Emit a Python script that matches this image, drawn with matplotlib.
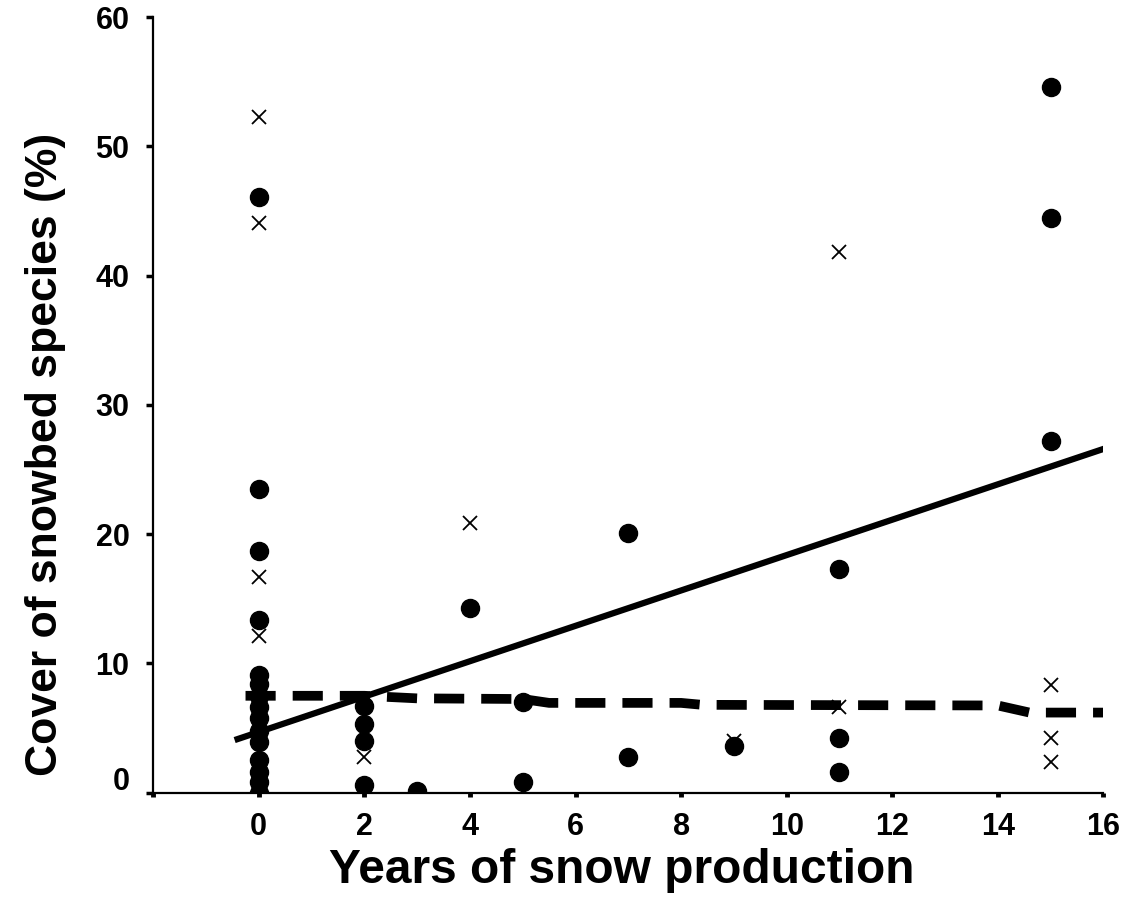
import matplotlib
matplotlib.use("Agg")
import matplotlib.pyplot as plt
from matplotlib.transforms import ScaledTranslation

plt.rcParams['font.family'] = ['Liberation Sans', 'DejaVu Sans']
plt.rcParams['font.weight'] = 'bold'

# filled circles
circle_years = [0] * 15 + [2] * 4 + [3] + [4] + [5] * 2 + [7] * 2 + [9] + [11] * 3 + [15] * 3
circle_cover = [46.1, 23.5, 18.7, 13.4, 9.1, 8.4, 7.5, 6.6, 5.8, 4.8, 3.9, 2.5, 1.6, 0.8, 0.0,
                6.7, 5.3, 4.0, 0.6,
                0.15,
                14.3,
                7.0, 0.8,
                20.1, 2.8,
                3.6,
                17.3, 4.2, 1.6,
                54.6, 44.5, 27.2]

# crosses
cross_years = [0] * 4 + [2] * 2 + [4] + [5] + [9] + [11] * 2 + [15] * 3
cross_cover = [52.3, 44.1, 16.7, 12.1,
               2.8, 0.1,
               20.9,
               0.1,
               4.0,
               41.8, 6.6,
               8.3, 4.2, 2.4]

# regression line (solid) and second fit (dashed)
fit_years = [-0.4, 16]
fit_cover = [4.15, 26.6]
dash_years = [-0.25, 2, 3, 5, 5.5, 8, 8.4, 14, 14.6, 16]
dash_cover = [7.5, 7.5, 7.3, 7.25, 6.95, 6.95, 6.8, 6.75, 6.2, 6.2]

xticks = [-2, 0, 2, 4, 6, 8, 10, 12, 14, 16]
xticklabels = ['', '0', '2', '4', '6', '8', '10', '12', '14', '16']
yticks = [0, 10, 20, 30, 40, 50, 60]

fig = plt.figure(figsize=(11.26, 9.07), dpi=100)
ax = fig.add_axes([0.136, 0.126, 0.844, 0.855])

ax.plot(cross_years, cross_cover, linestyle='none', marker='x', color='black',
        markersize=10, markeredgewidth=1.3, zorder=2)
ax.plot(circle_years, circle_cover, linestyle='none', marker='o', color='black',
        markersize=13, zorder=3)
ax.plot(fit_years, fit_cover, color='black', linewidth=4.5, zorder=4)
ax.plot(dash_years, dash_cover, color='black', linewidth=7, linestyle=(0, (3.1, 1.75)),
        zorder=4)

ax.set_xlim(-2, 16)
ax.set_ylim(0, 60)
ax.set_xticks(xticks)
ax.set_xticklabels(xticklabels)
ax.set_yticks(yticks)

for side in ['top', 'right']:
    ax.spines[side].set_visible(False)
for side in ['left', 'bottom']:
    ax.spines[side].set_linewidth(1.6)

ax.tick_params(axis='y', direction='out', length=5, width=2.5, labelsize=22, pad=12)
ax.tick_params(axis='x', direction='out', length=3, width=3.5, labelsize=22, pad=11)

# "0" on the y axis sits a bit higher than its tick
lab = ax.get_yticklabels()[0]
lab.set_transform(lab.get_transform() + ScaledTranslation(0, 10 / 72, fig.dpi_scale_trans))

ax.set_xlabel("Years of snow production", fontsize=34.5, fontweight='bold', va='center')
ax.set_ylabel("Cover of snowbed species (%)", fontsize=32, fontweight='bold', va='center')
ax.xaxis.set_label_coords(0.493, -0.1)
ax.yaxis.set_label_coords(-0.113, 0.436)

fig.savefig("out.png", dpi=100)
